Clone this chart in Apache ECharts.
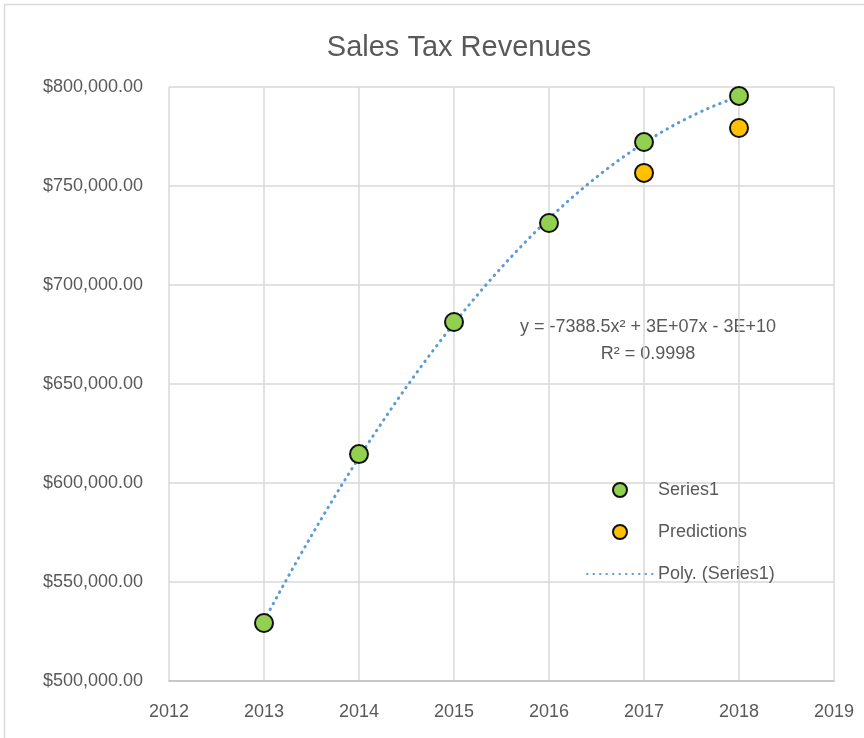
<!DOCTYPE html>
<html><head><meta charset="utf-8">
<script src="https://cdn.jsdelivr.net/npm/echarts@6/dist/echarts.min.js"></script>
<style>html,body{margin:0;padding:0;background:#fff}#c{width:864px;height:738px}</style>
</head><body><div id="c"></div>
<script>
const years = [2013, 2014, 2015, 2016, 2017, 2018];
const series1 = [529300, 614600, 681300, 731300, 772200, 795500];
const predYears = [2017, 2018];
const predictions = [756600, 779300];
const xTicks = [2012, 2013, 2014, 2015, 2016, 2017, 2018, 2019];
const equationText = ['y = -7388.5x\u00B2 + 3E+07x - 3E+10', 'R\u00B2 = 0.9998'];

// quadratic least squares fit of Series1 (centered x)
function polyFit2(xs, ys) {
  const n = xs.length, xm = xs.reduce((a,b)=>a+b,0)/n;
  let S = [0,0,0,0,0], T = [0,0,0];
  xs.forEach((x,i)=>{const t=x-xm; let p=1; for(let k=0;k<5;k++){S[k]+=p; if(k<3)T[k]+=p*ys[i]; p*=t;}});
  const A=[[S[0],S[1],S[2]],[S[1],S[2],S[3]],[S[2],S[3],S[4]]], b=T.slice();
  for(let i=0;i<3;i++){for(let j=i+1;j<3;j++){const f=A[j][i]/A[i][i];for(let k=i;k<3;k++)A[j][k]-=f*A[i][k];b[j]-=f*b[i];}}
  const c=[0,0,0];
  for(let i=2;i>=0;i--){let s=b[i];for(let k=i+1;k<3;k++)s-=A[i][k]*c[k];c[i]=s/A[i][i];}
  return x=>{const t=x-xm;return c[0]+c[1]*t+c[2]*t*t;};
}
const f = polyFit2(years, series1);
const trend = [];
for (let i = 0; i <= 100; i++) { const x = years[0] + (years[years.length-1]-years[0])*i/100; trend.push([x, f(x)]); }

const FONT = 'Liberation Sans';
const GRAY = '#595959';
function money(v){const s=Math.round(v).toString().replace(/\B(?=(\d{3})+(?!\d))/g, ',');return '$'+s+'.00';}

const chart = echarts.init(document.getElementById('c'));
chart.setOption({
  backgroundColor:'#fff',
  animation:false,
  title:{text:'Sales Tax Revenues',left:454,textAlign:'center',top:28,
    textStyle:{fontFamily:FONT,fontSize:29,fontWeight:'normal',color:GRAY}},
  grid:{left:169,right:30,top:87,bottom:57,show:false},
  xAxis:{type:'value',min:2012,max:2019,interval:1,
    axisLine:{show:true,lineStyle:{color:'#bfbfbf',width:1.5}},axisTick:{show:false},
    splitLine:{show:true,lineStyle:{color:'#d9d9d9',width:1.5}},
    axisLabel:{formatter:v=>String(v),color:GRAY,fontFamily:FONT,fontSize:18,margin:22}},
  yAxis:{type:'value',min:500000,max:800000,interval:50000,
    axisLine:{show:false},axisTick:{show:false},
    splitLine:{show:true,lineStyle:{color:'#d9d9d9',width:1.5}},
    axisLabel:{formatter:money,color:GRAY,fontFamily:FONT,fontSize:18,margin:26}},
  legend:{orient:'vertical',left:581,top:476,itemWidth:66,itemHeight:14,itemGap:24,
    textStyle:{fontFamily:FONT,fontSize:18,color:GRAY},
    data:['Series1','Predictions',{name:'Poly. (Series1)',itemStyle:{color:'rgba(0,0,0,0)',borderWidth:0,opacity:0}}]},
  series:[
    {name:'Poly. (Series1)',type:'line',data:trend,showSymbol:false,symbol:'none',smooth:false,z:1,
      lineStyle:{color:'#5b9bd5',width:3,type:[0.5,6],cap:'round'},itemStyle:{color:'#5b9bd5'}},
    {name:'Series1',type:'scatter',data:years.map((y,i)=>[y,series1[i]]),symbolSize:18,z:3,
      itemStyle:{color:'#92d050',borderColor:'#111',borderWidth:2,opacity:1}},
    {name:'Predictions',type:'scatter',data:predYears.map((y,i)=>[y,predictions[i]]),symbolSize:18,z:3,
      itemStyle:{color:'#ffc000',borderColor:'#111',borderWidth:2,opacity:1}}
  ],
  graphic:[
    {type:'rect',shape:{x:4.5,y:4.5,width:900,height:800},style:{fill:'none',stroke:'#d9d9d9',lineWidth:1.5},silent:true},
    {type:'text',style:{text:equationText[0],x:648,y:318,fill:GRAY,font:'18px "'+FONT+'"',textAlign:'center'}},
    {type:'text',style:{text:equationText[1],x:648,y:345,fill:GRAY,font:'18px "'+FONT+'"',textAlign:'center'}}
  ]
});
</script></body></html>
